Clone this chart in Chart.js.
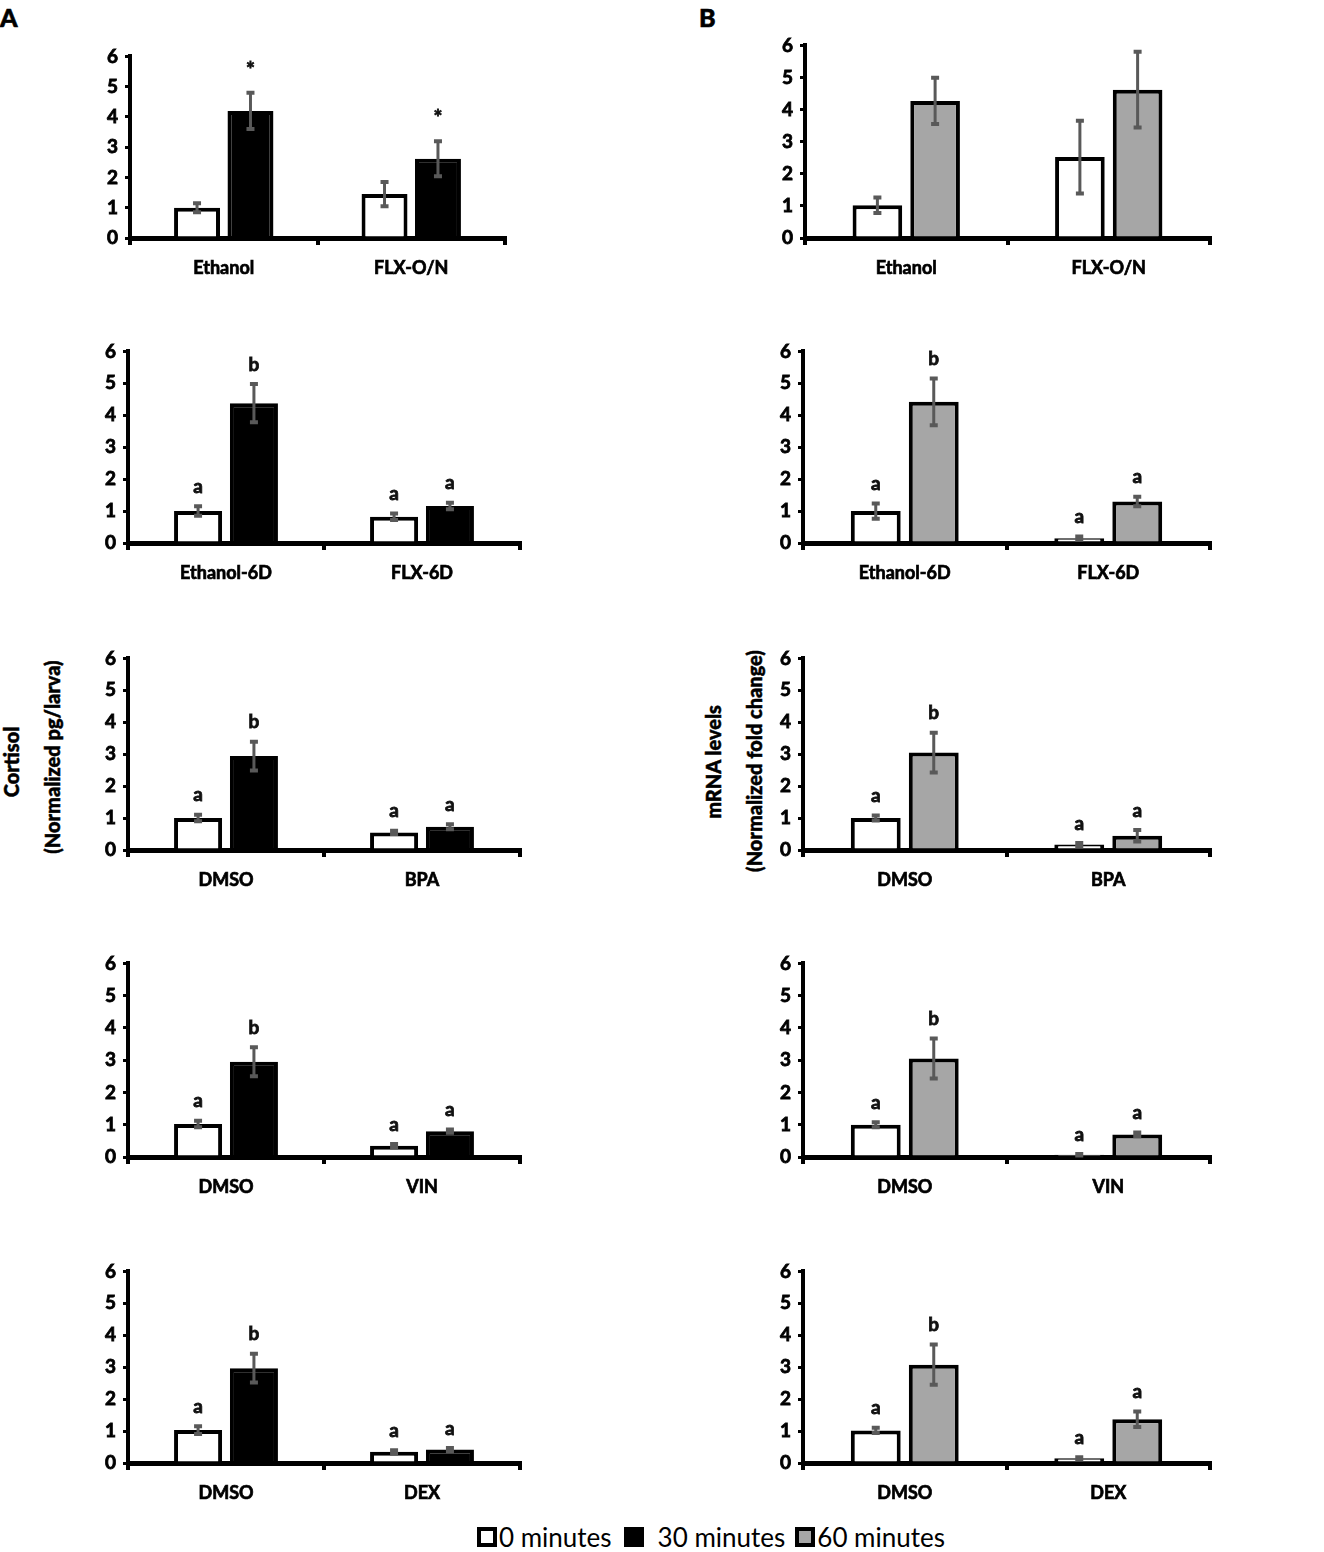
<!DOCTYPE html>
<html>
<head>
<meta charset="utf-8">
<script src="https://cdn.jsdelivr.net/npm/chart.js@4.4.1/dist/chart.umd.min.js"></script>
<style>
  html, body { margin: 0; padding: 0; background: #fff; }
  body { width: 1324px; height: 1552px; position: relative; overflow: hidden; font-family: Lato, "Open Sans", sans-serif; }
  canvas { position: absolute; }
  .tag { position: absolute; font-weight: 900; font-size: 25px; color: #000; -webkit-text-stroke: 0.6px #000; }
  .ytitle { position: absolute; font-weight: 900; font-size: 20px; color: #000; white-space: nowrap;
            -webkit-text-stroke: 0.5px #000;
            transform: translate(-50%, -50%) rotate(-90deg); }
  #legend { position: absolute; left: 477px; top: 1521px; display: flex; align-items: center; font-size: 26px; color: #000; }
  #legend .box { width: 12px; height: 12px; border: 4px solid #000; display: inline-block; }
</style>
</head>
<body>
<div class="tag" style="left:0px;top:2px">A</div>
<div class="tag" style="left:699px;top:2px">B</div>

<div class="ytitle" style="left:11px;top:762px">Cortisol</div>
<div class="ytitle" style="left:52px;top:757px">(Normalized pg/larva)</div>
<div class="ytitle" style="left:713px;top:762px">mRNA levels</div>
<div class="ytitle" style="left:754px;top:761px">(Normalized fold change)</div>

<div id="legend">
  <span class="box" style="background:#fff"></span><span style="margin-left:2px;margin-right:12px">0 minutes</span>
  <span class="box" style="background:#000"></span><span style="margin-left:14px;margin-right:10px">30 minutes</span>
  <span class="box" style="background:#a6a6a6"></span><span style="margin-left:2px">60 minutes</span>
</div>

<script>
// categories per row (same in both columns)
const rowLabels = [
  ['Ethanol', 'FLX-O/N'],
  ['Ethanol-6D', 'FLX-6D'],
  ['DMSO', 'BPA'],
  ['DMSO', 'VIN'],
  ['DMSO', 'DEX']
];
const yTicks = [0, 1, 2, 3, 4, 5, 6];

// A: cortisol, 0 and 30 minutes
const cortisol0     = [[1.0, 1.45], [1.0, 0.82], [1.0, 0.55], [1.02, 0.35], [1.03, 0.35]];
const cortisol0Err  = [[0.15, 0.4], [0.15, 0.1], [0.1, 0.05], [0.1, 0.05], [0.12, 0.05]];
const cortisol30    = [[4.2, 2.62], [4.38, 1.16], [2.94, 0.73], [2.95, 0.8], [2.97, 0.42]];
const cortisol30Err = [[0.6, 0.58], [0.6, 0.1], [0.45, 0.08], [0.45, 0.05], [0.45, 0.05]];
const cortisol0Marks  = [['', ''], ['a', 'a'], ['a', 'a'], ['a', 'a'], ['a', 'a']];
const cortisol30Marks = [['*', '*'], ['b', 'a'], ['b', 'a'], ['b', 'a'], ['b', 'a']];

// B: mRNA, 0 and 60 minutes
const mrna0     = [[1.02, 2.52], [1.0, 0.15], [1.0, 0.17], [1.0, 0.07], [1.02, 0.15]];
const mrna0Err  = [[0.24, 1.13], [0.24, 0.05], [0.08, 0.05], [0.08, 0.02], [0.08, 0.03]];
const mrna60    = [[4.27, 4.62], [4.42, 1.3], [3.05, 0.45], [3.05, 0.7], [3.08, 1.37]];
const mrna60Err = [[0.72, 1.18], [0.73, 0.15], [0.62, 0.18], [0.62, 0.06], [0.63, 0.24]];
const mrna0Marks  = [['', ''], ['a', 'a'], ['a', 'a'], ['a', 'a'], ['a', 'a']];
const mrna60Marks = [['', ''], ['b', 'a'], ['b', 'a'], ['b', 'a'], ['b', 'a']];

// plot area boxes: [left, top, bottom, right]
const boxesA = [[130, 50, 238, 505], [128, 345, 543, 520], [128, 652, 850, 520], [128, 957, 1157, 520], [128, 1265, 1463, 520]];
const boxesB = [[805, 39, 238, 1210], [803, 345, 543, 1210], [803, 652, 850, 1210], [803, 957, 1157, 1210], [803, 1265, 1463, 1210]];

const Y_W = 50, X_H = 50, PAD_T = 12, PAD_R = 10;
const FONT = 'Lato, "Open Sans", sans-serif';

const errorBars = {
  id: 'errorBars',
  afterDraw(chart) {
    const ctx = chart.ctx, ys = chart.scales.y;
    chart.data.datasets.forEach((ds, di) => {
      const meta = chart.getDatasetMeta(di);
      meta.data.forEach((bar, i) => {
        const v = ds.data[i], e = ds.errors[i];
        const top = ys.getPixelForValue(v + e);
        const bot = ys.getPixelForValue(Math.max(v - e, 0));
        ctx.save();
        ctx.strokeStyle = '#595959';
        ctx.lineWidth = 3;
        ctx.beginPath();
        ctx.moveTo(bar.x, top); ctx.lineTo(bar.x, bot);
        ctx.stroke();
        ctx.lineWidth = 4;
        ctx.beginPath();
        ctx.moveTo(bar.x - 4, top); ctx.lineTo(bar.x + 4, top);
        ctx.moveTo(bar.x - 4, bot); ctx.lineTo(bar.x + 4, bot);
        ctx.stroke();
        const m = ds.marks[i];
        if (m) {
          ctx.fillStyle = '#111';
          ctx.strokeStyle = '#111';
          ctx.lineWidth = 0.8;
          ctx.font = (m === '*' ? 'bold 21px ' : 'bold 19px ') + FONT;
          ctx.textAlign = 'center';
          ctx.textBaseline = 'bottom';
          const ty = top - (m === '*' ? 12 : 10);
          ctx.fillText(m, bar.x, ty);
          ctx.strokeText(m, bar.x, ty);
        }
        ctx.restore();
      });
    });
  }
};

function makePanel(box, labels, v0, e0, m0, v1, e1, m1, fill1) {
  const [l, t, b, r] = box;
  const cv = document.createElement('canvas');
  const w = (r - l) + Y_W + PAD_R, h = (b - t) + PAD_T + X_H;
  cv.width = w; cv.height = h;
  cv.style.left = (l - Y_W) + 'px';
  cv.style.top = (t - PAD_T) + 'px';
  cv.style.width = w + 'px'; cv.style.height = h + 'px';
  document.body.appendChild(cv);

  new Chart(cv.getContext('2d'), {
    type: 'bar',
    data: {
      labels: labels,
      datasets: [
        { label: '0 minutes', data: v0, errors: e0, marks: m0,
          backgroundColor: '#ffffff', borderColor: '#000', borderWidth: 4, borderSkipped: 'start' },
        { label: fill1 === '#000000' ? '30 minutes' : '60 minutes', data: v1, errors: e1, marks: m1,
          backgroundColor: fill1, borderColor: '#000', borderWidth: 4, borderSkipped: 'start' }
      ]
    },
    options: {
      responsive: false,
      animation: false,
      devicePixelRatio: 1,
      layout: { padding: { top: PAD_T, right: PAD_R, left: 0, bottom: 0 } },
      categoryPercentage: 0.57,
      barPercentage: 0.86,
      plugins: { legend: { display: false }, tooltip: { enabled: false } },
      scales: {
        x: {
          z: 1,
          afterFit: (s) => { s.height = X_H; },
          border: { display: true, color: '#000', width: 5 },
          grid: { offset: true, drawOnChartArea: false, drawTicks: true, tickLength: 7, color: '#000', lineWidth: 4 },
          ticks: { color: '#000', padding: 12, textStrokeColor: '#000', textStrokeWidth: 0.7,
                   font: { family: FONT, weight: 'bold', size: 18 } }
        },
        y: {
          z: 1,
          min: 0, max: 6,
          afterFit: (s) => { s.width = Y_W; },
          afterBuildTicks: (s) => { s.ticks = yTicks.map(v => ({ value: v })); },
          border: { display: true, color: '#000', width: 4 },
          grid: { drawOnChartArea: false, drawTicks: true, tickLength: 5, color: '#000', lineWidth: 3 },
          ticks: { color: '#000', padding: 7, textStrokeColor: '#000', textStrokeWidth: 0.8,
                   font: { family: FONT, weight: 'bold', size: 19 } }
        }
      }
    },
    plugins: [errorBars]
  });
}

rowLabels.forEach((labels, i) => {
  makePanel(boxesA[i], labels, cortisol0[i], cortisol0Err[i], cortisol0Marks[i],
            cortisol30[i], cortisol30Err[i], cortisol30Marks[i], '#000000');
  makePanel(boxesB[i], labels, mrna0[i], mrna0Err[i], mrna0Marks[i],
            mrna60[i], mrna60Err[i], mrna60Marks[i], '#a6a6a6');
});
</script>
</body>
</html>
